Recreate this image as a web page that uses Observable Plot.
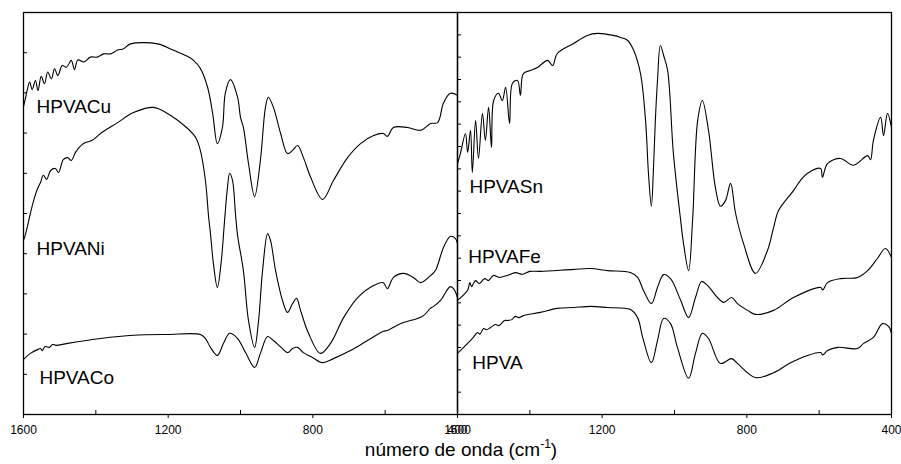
<!DOCTYPE html>
<html><head><meta charset="utf-8">
<script src="https://cdn.jsdelivr.net/npm/d3@7"></script>
<script src="https://cdn.jsdelivr.net/npm/@observablehq/plot@0.6"></script>
<style>
body{margin:0;background:#fff;}
#chart{position:relative;width:901px;height:464px;font-family:"Liberation Sans",Arial,sans-serif;color:#000;}
#left{position:absolute;left:0;top:0;}
#right{position:absolute;left:457px;top:0;}
#xlabel{position:absolute;left:0;width:922px;top:440px;text-align:center;font-size:19px;line-height:19px;}
#xlabel sup{font-size:12px;vertical-align:8px;line-height:0;}
</style></head>
<body><div id="chart"><div id="left"></div><div id="right"></div><div id="xlabel">número de onda (cm<sup>-1</sup>)</div></div>
<script>
// wavenumber (cm-1), transmittance (arbitrary units, 0-100)
const HPVACu = [[1600,76.6],[1594,78.9],[1590,80.6],[1583,82.7],[1576,80.8],[1567,83.1],[1560,80.6],[1551,84.1],[1542,82.3],[1533,85.2],[1523,83.5],[1514,86.0],[1505,84.3],[1493,86.8],[1481,86.4],[1468,88.1],[1459,85.8],[1450,88.2],[1433,87.7],[1415,88.9],[1396,88.9],[1378,89.7],[1359,89.7],[1341,90.6],[1323,91.0],[1304,92.2],[1229,92.2],[1185,90.6],[1147,89.1],[1130,88.1],[1111,86.1],[1091,81.4],[1077,74.9],[1064,67.4],[1050,71.4],[1042,79.9],[1028,83.3],[1008,78.9],[1000,73.9],[992,71.4],[978,62.5],[961,54.2],[945,63.2],[931,76.4],[923,78.9],[909,76.4],[889,69.9],[870,64.9],[856,65.7],[842,66.9],[826,63.9],[806,59.0],[773,53.5],[743,58.2],[704,63.9],[668,67.4],[632,69.4],[605,69.9],[594,69.2],[577,71.4],[538,71.4],[502,70.7],[474,72.4],[455,72.6],[439,77.4],[420,79.9],[400,79.4]];
const HPVANi = [[1600,43.3],[1594,45.0],[1581,50.0],[1572,53.2],[1561,56.2],[1553,57.7],[1545,59.5],[1536,58.5],[1525,60.7],[1512,61.2],[1503,60.2],[1490,63.4],[1478,63.9],[1468,63.2],[1455,65.4],[1434,67.4],[1410,68.2],[1387,69.9],[1340,72.6],[1296,75.1],[1241,76.4],[1202,74.9],[1147,71.2],[1124,68.9],[1111,65.7],[1097,58.2],[1088,49.0],[1083,45.0],[1075,37.6],[1064,31.6],[1053,38.3],[1044,48.3],[1036,56.5],[1030,60.0],[1022,58.2],[1014,50.0],[1008,44.5],[992,35.8],[978,23.4],[961,16.7],[950,23.4],[939,35.8],[925,45.0],[917,43.3],[903,35.8],[884,28.4],[870,25.4],[856,27.6],[845,28.9],[834,25.9],[812,20.2],[779,15.2],[751,17.7],[715,24.1],[676,29.1],[632,32.1],[605,32.8],[594,31.3],[577,34.1],[549,35.1],[522,34.1],[502,32.8],[474,34.6],[461,35.8],[439,41.5],[420,44.3],[406,43.8],[400,42.5]];
const HPVACo = [[1600,13.7],[1581,15.2],[1560,16.2],[1553,16.4],[1548,15.9],[1540,16.9],[1528,16.7],[1520,17.4],[1510,17.2],[1478,17.7],[1387,18.9],[1296,19.7],[1202,19.9],[1111,19.9],[1097,18.9],[1083,16.7],[1064,14.7],[1047,17.7],[1030,20.2],[1008,18.9],[986,15.4],[961,11.7],[945,15.2],[925,19.4],[909,18.4],[884,16.4],[870,15.4],[856,16.4],[842,16.7],[826,15.4],[801,14.2],[773,12.9],[743,13.9],[696,15.9],[649,18.4],[605,20.7],[594,20.9],[558,22.6],[511,23.9],[494,24.6],[475,26.4],[466,26.9],[447,28.4],[420,31.8],[411,31.3],[400,29.1]];
const HPVASn = [[1600,62.4],[1592,64.9],[1578,69.9],[1572,65.2],[1564,70.7],[1559,60.2],[1550,73.1],[1542,63.7],[1531,74.9],[1523,68.2],[1514,76.4],[1506,66.4],[1500,78.1],[1487,79.9],[1476,78.1],[1467,81.4],[1456,72.4],[1448,82.4],[1434,83.1],[1426,79.4],[1418,84.8],[1398,85.6],[1379,86.3],[1351,88.1],[1337,86.8],[1324,89.8],[1279,92.3],[1241,94.3],[1213,94.8],[1169,94.3],[1149,93.8],[1130,93.1],[1113,90.6],[1094,84.8],[1080,73.1],[1072,60.0],[1064,51.8],[1058,61.5],[1053,73.1],[1047,83.1],[1039,91.8],[1030,89.3],[1019,85.6],[1003,64.9],[983,48.3],[975,42.5],[961,35.8],[950,48.3],[936,73.1],[923,78.1],[906,70.7],[887,56.5],[873,51.8],[859,53.2],[845,57.5],[831,50.0],[809,42.5],[776,35.1],[743,40.8],[726,46.5],[712,50.8],[671,55.7],[652,58.2],[632,60.0],[596,61.2],[591,59.0],[577,62.4],[541,63.7],[505,62.0],[466,64.4],[458,63.4],[450,68.2],[430,73.9],[422,69.4],[411,74.9],[400,71.4]];
const HPVAFe = [[1600,28.4],[1572,30.9],[1566,32.8],[1561,31.8],[1556,32.6],[1550,33.3],[1540,32.6],[1525,33.8],[1515,33.3],[1509,33.8],[1500,34.6],[1485,34.1],[1462,34.6],[1440,35.3],[1420,34.9],[1400,35.6],[1371,35.6],[1279,36.1],[1232,36.3],[1185,35.8],[1122,35.3],[1102,34.1],[1086,30.9],[1064,27.6],[1047,31.6],[1030,34.8],[1011,33.8],[983,28.4],[961,24.1],[942,29.1],[925,33.1],[909,32.1],[881,29.1],[864,27.9],[842,29.1],[826,27.6],[798,25.9],[776,24.9],[726,25.9],[671,29.1],[596,31.6],[590,31.0],[577,32.8],[541,33.8],[494,34.1],[466,35.8],[439,38.8],[417,41.3],[400,39.1]];
const HPVA = [[1600,15.2],[1572,17.7],[1556,19.2],[1545,20.4],[1538,20.0],[1528,21.4],[1520,21.1],[1509,21.6],[1495,22.4],[1485,22.1],[1470,23.4],[1462,23.4],[1450,23.6],[1440,24.4],[1430,24.1],[1418,24.6],[1371,25.4],[1324,26.4],[1279,26.6],[1232,26.9],[1185,26.6],[1122,26.1],[1102,24.1],[1088,19.2],[1064,12.9],[1047,18.4],[1030,23.9],[1011,22.6],[992,16.7],[961,9.0],[942,15.2],[923,20.2],[906,18.9],[873,12.7],[842,13.9],[826,12.7],[776,9.2],[726,10.4],[679,12.9],[632,14.7],[596,15.4],[590,14.8],[577,15.9],[549,16.7],[494,16.4],[477,17.7],[450,19.2],[425,22.6],[408,21.9],[400,20.2]];

// series labels: name, wavenumber, transmittance of label baseline
const leftLabels = [{name:"HPVACu",x:1564,y:74.9},{name:"HPVANi",x:1564,y:39.6},{name:"HPVACo",x:1556,y:7.7}];
const rightLabels = [{name:"HPVASn",x:1567,y:55.0},{name:"HPVAFe",x:1570,y:37.6},{name:"HPVA",x:1559,y:11.4}];

const majorX = [1600, 1200, 800, 400];
const minorX = [1400, 1000, 600];
const leftYTicks = d3.range(1, 10).map(i => i * 10);
const rightYTicks = d3.range(1, 18).map(i => i * 100 / 18);

function panel(series, labels, yTicks, width, ml, mr) {
  const data = series.flatMap(([name, vals]) => vals.map(([w, t]) => ({name, w, t})));
  return Plot.plot({
    width, height: 440, marginLeft: ml, marginRight: mr, marginTop: 12, marginBottom: 26,
    style: {overflow: "visible", background: "transparent", fontFamily: "'Liberation Sans', Arial, sans-serif", color: "#000"},
    x: {domain: [1600, 400], label: null},
    y: {domain: [0, 100], axis: null},
    marks: [
      Plot.line(data, {x: "w", y: "t", z: "name", stroke: "#000", strokeWidth: 1.1, curve: "catmull-rom"}),
      Plot.ruleY(yTicks, {y: d => d, x1: 1600, x2: 1589, stroke: "#000", strokeWidth: 1}),
      Plot.ruleX(minorX, {x: d => d, y1: 0, y2: 1, stroke: "#000", strokeWidth: 1}),
      Plot.axisX({ticks: majorX, tickSize: 4, tickPadding: 7, tickFormat: d => String(d), fontSize: 12, label: null}),
      Plot.text(labels, {x: "x", y: "y", text: "name", textAnchor: "start", lineAnchor: "bottom", fontSize: 19, fill: "#000"}),
      Plot.frame({stroke: "#000", strokeWidth: 1.3})
    ]
  });
}

document.getElementById("left").append(panel([["HPVACu", HPVACu], ["HPVANi", HPVANi], ["HPVACo", HPVACo]], leftLabels, leftYTicks, 457, 23, 0));
document.getElementById("right").append(panel([["HPVASn", HPVASn], ["HPVAFe", HPVAFe], ["HPVA", HPVA]], rightLabels, rightYTicks, 444, 0, 10));
</script>
</body></html>
